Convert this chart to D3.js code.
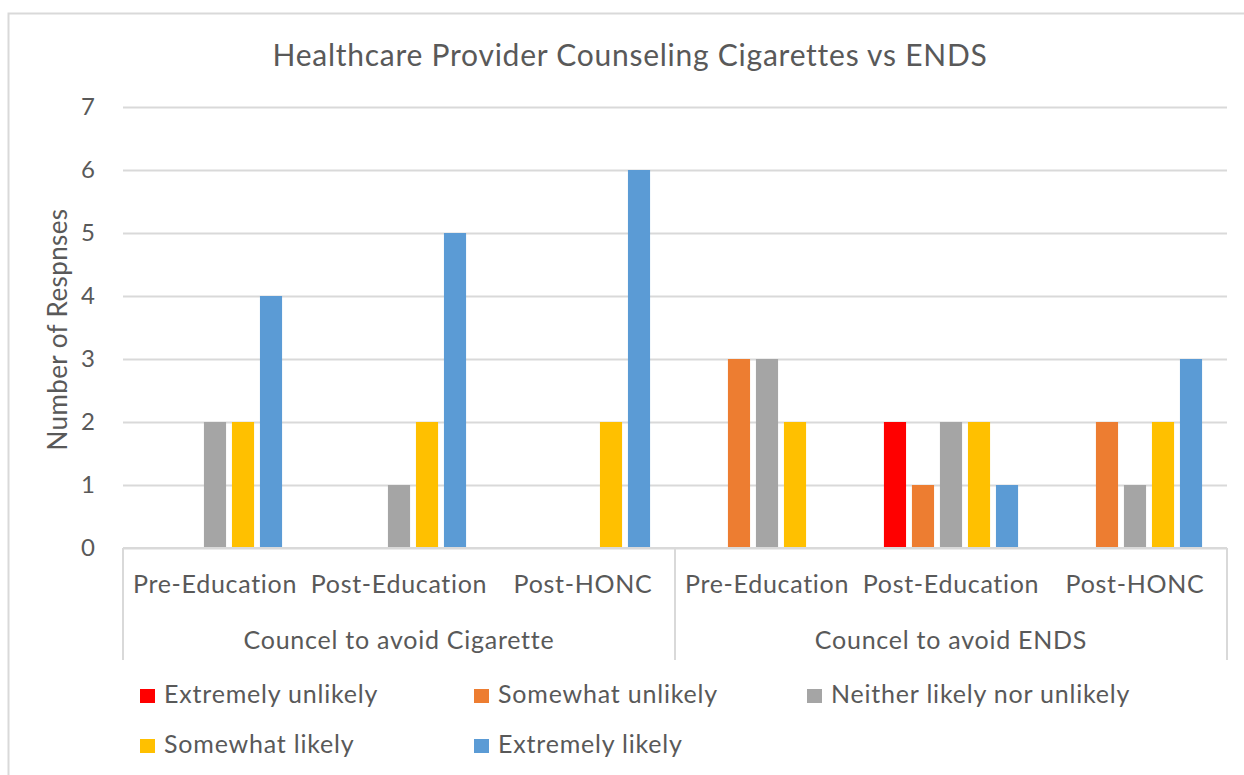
<!DOCTYPE html>
<html>
<head>
<meta charset="utf-8">
<script src="https://cdn.jsdelivr.net/npm/d3@7"></script>
<style>
  body { margin: 0; background: #fff; }
  svg text { font-family: Lato, "Open Sans", sans-serif; fill: #595959; }
</style>
</head>
<body>
<div id="chart"></div>
<script>
// data
var groups = ["Councel to avoid Cigarette", "Councel to avoid ENDS"];
var stages = ["Pre-Education", "Post-Education", "Post-HONC"];
var series = ["Extremely unlikely", "Somewhat unlikely", "Neither likely nor unlikely", "Somewhat likely", "Extremely likely"];
var colors = ["#ff0000", "#ed7d31", "#a5a5a5", "#ffc000", "#5b9bd5"];

// one value per category (3 stages x 2 groups)
var extremelyUnlikely = [0, 0, 0, 0, 2, 0];
var somewhatUnlikely  = [0, 0, 0, 3, 1, 2];
var neither           = [2, 1, 0, 3, 2, 1];
var somewhatLikely    = [2, 2, 2, 2, 2, 2];
var extremelyLikely   = [4, 5, 6, 0, 1, 3];
var yTicks = [0, 1, 2, 3, 4, 5, 6, 7];

var valueArrays = [extremelyUnlikely, somewhatUnlikely, neither, somewhatLikely, extremelyLikely];

var W = 1244, H = 775;
var margin = {top: 107, left: 123, right: 17, bottom: 227};
var plotW = W - margin.left - margin.right,
    plotH = H - margin.top - margin.bottom;

var svg = d3.select("#chart").append("svg")
  .attr("width", W).attr("height", H);

// outer chart border (runs off right/bottom edges like the screenshot)
svg.append("rect")
  .attr("x", 8.5).attr("y", 13.5)
  .attr("width", W).attr("height", H)
  .attr("fill", "none").attr("stroke", "#d9d9d9").attr("stroke-width", 2);

svg.append("text")
  .attr("x", 630).attr("y", 66)
  .attr("text-anchor", "middle")
  .style("font-size", "30px")
  .style("letter-spacing", "0.75px")
  .text("Healthcare Provider Counseling Cigarettes vs ENDS");

var g = svg.append("g").attr("transform", "translate(" + margin.left + "," + margin.top + ")");

var cats = [];
groups.forEach(function(gr, gi) {
  stages.forEach(function(st, si) {
    cats.push({key: gi + "-" + si, group: gr, stage: st, idx: gi * stages.length + si});
  });
});

var x0 = d3.scaleBand().domain(cats.map(d => d.key)).range([0, plotW]).padding(0);
var x1 = d3.scaleBand().domain(series).range([0, x0.bandwidth()])
  .paddingInner(0.21).paddingOuter(0.89);
var y = d3.scaleLinear().domain([0, 7]).range([plotH, 0]);

// gridlines + tick labels
var yAxis = g.append("g")
  .call(d3.axisLeft(y).tickValues(yTicks).tickSize(-plotW).tickPadding(28).tickFormat(d3.format("d")));
yAxis.select(".domain").remove();
yAxis.selectAll(".tick line").attr("stroke", "#d9d9d9").attr("stroke-width", 2);
yAxis.selectAll(".tick text").style("font-size", "24px").attr("fill", "#595959");

svg.append("text")
  .attr("transform", "translate(67," + (margin.top + plotH / 2 + 2) + ") rotate(-90)")
  .attr("text-anchor", "middle")
  .style("font-size", "26px")
  .style("letter-spacing", "0.4px")
  .text("Number of Respnses");

// bars
var catG = g.selectAll(".cat").data(cats).enter().append("g")
  .attr("transform", d => "translate(" + x0(d.key) + ",0)");

catG.selectAll("rect")
  .data(function(c) {
    return series.map(function(s, i) { return {s: s, i: i, v: valueArrays[i][c.idx]}; });
  })
  .enter().append("rect")
  .filter(d => d.v > 0)
  .attr("x", d => x1(d.s))
  .attr("width", x1.bandwidth())
  .attr("y", d => y(d.v))
  .attr("height", d => plotH - y(d.v))
  .attr("fill", d => colors[d.i]);

// category axis: base line and group separators
g.append("line")
  .attr("x1", 0).attr("x2", plotW).attr("y1", plotH).attr("y2", plotH)
  .attr("stroke", "#d9d9d9").attr("stroke-width", 2);

var sepX = [0].concat(groups.map((gr, gi) => x0(gi + "-" + (stages.length - 1)) + x0.bandwidth()));
g.selectAll(".sep").data(sepX).enter().append("line")
  .attr("x1", d => d).attr("x2", d => d)
  .attr("y1", plotH).attr("y2", plotH + 112)
  .attr("stroke", "#d9d9d9").attr("stroke-width", 2);

g.selectAll(".stage").data(cats).enter().append("text")
  .attr("x", d => x0(d.key) + x0.bandwidth() / 2)
  .attr("y", plotH + 45)
  .attr("text-anchor", "middle")
  .style("font-size", "25px")
  .style("letter-spacing", "0.7px")
  .text(d => d.stage);

g.selectAll(".group").data(groups).enter().append("text")
  .attr("x", (d, gi) => (x0(gi + "-0") + x0(gi + "-" + (stages.length - 1)) + x0.bandwidth()) / 2)
  .attr("y", plotH + 101)
  .attr("text-anchor", "middle")
  .style("font-size", "25px")
  .style("letter-spacing", "0.75px")
  .text(d => d);

// legend
var legendPos = [[140, 703], [474, 703], [807, 703], [140, 753], [474, 753]];
var leg = svg.selectAll(".leg").data(series).enter().append("g")
  .attr("transform", (d, i) => "translate(" + legendPos[i][0] + "," + legendPos[i][1] + ")");
leg.append("rect")
  .attr("x", 0).attr("y", -14).attr("width", 15).attr("height", 14)
  .attr("fill", (d, i) => colors[i]);
leg.append("text")
  .attr("x", 24).attr("y", 0)
  .style("font-size", "25px")
  .style("letter-spacing", "0.8px")
  .text(d => d);
</script>
</body>
</html>
